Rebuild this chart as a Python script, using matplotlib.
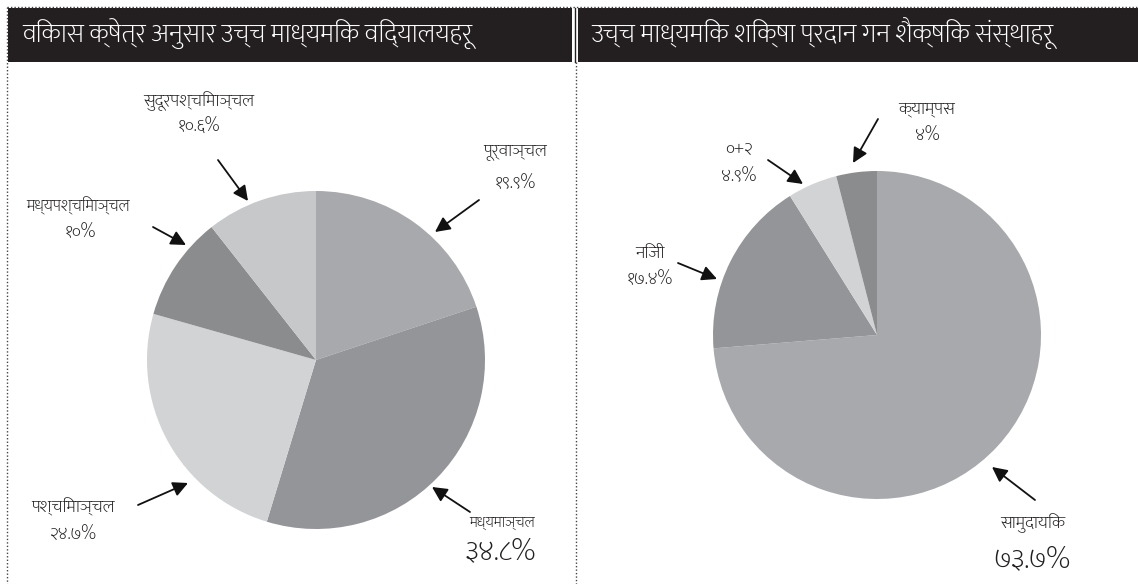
import matplotlib
matplotlib.use("Agg")
import matplotlib.pyplot as plt

plt.rcParams['font.family'] = ['Mukta', 'Noto Sans Devanagari', 'DejaVu Sans']
plt.rcParams['font.weight'] = 'light'

# left panel: higher secondary schools by development region
left_title = "विकास क्षेत्र अनुसार उच्च माध्यमिक विद्यालयहरू"
left_names = ["पूर्वाञ्चल", "मध्यमाञ्चल", "पश्चिमाञ्चल", "मध्यपश्चिमाञ्चल", "सुदूरपश्चिमाञ्चल"]
left_values = [19.9, 34.8, 24.7, 10.0, 10.6]

# right panel: institutions offering higher secondary education
right_title = "उच्च माध्यमिक शिक्षा प्रदान गन शैक्षिक संस्थाहरू"
right_names = ["सामुदायिक", "निजी", "०+२", "क्याम्पस"]
right_values = [73.7, 17.4, 4.9, 4.0]

grays = ["#a7a9ac", "#939598", "#d1d3d4", "#8a8c8e", "#c7c8ca"]

W, H = 1138, 584
deva = str.maketrans("0123456789", "०१२३४५६७८९")


def pct(v):
    return ("%g%%" % v).translate(deva)


fig = plt.figure(figsize=(W / 100, H / 100), dpi=100)
ax = fig.add_axes([0, 0, 1, 1])


def Y(y):
    return H - y


# pies
ax.pie(left_values, colors=grays[:len(left_values)], startangle=90, counterclock=False,
       center=(316, Y(360)), radius=169, wedgeprops=dict(lw=0), frame=True)
ax.pie(right_values, colors=grays[:len(right_values)], startangle=90, counterclock=False,
       center=(877, Y(335)), radius=164, wedgeprops=dict(lw=0), frame=True)
ax.set_xlim(0, W)
ax.set_ylim(0, H)
ax.set_aspect("equal")
ax.axis("off")

# header bars
ax.add_patch(plt.Rectangle((8, Y(62)), 564, 54, color="#231f20", lw=0))
ax.add_patch(plt.Rectangle((578, Y(62)), W - 578, 54, color="#231f20", lw=0))
ax.plot([575, 575], [Y(8), Y(62)], color="#231f20", lw=1)
ax.text(22, Y(34), left_title, color="white", fontsize=19, va="center", ha="left")
ax.text(591, Y(34), right_title, color="white", fontsize=19, va="center", ha="left")

# dotted frame
dot = dict(color="#444444", lw=1, ls=(0, (1, 1.5)))
ax.plot([7, W], [Y(7), Y(7)], **dot)
ax.plot([7, 7], [Y(7), 0], **dot)
ax.plot([576, 576], [Y(62), 0], **dot)

arrow = dict(arrowstyle="-|>,head_length=0.9,head_width=0.45", color="#111111", lw=1.3,
             shrinkA=0, shrinkB=0)

# label layout: (name pos, pct pos, arrow tail, arrow head, name size, pct size)
left_layout = [
    ((515, 152), (515, 184), (479, 200), (435, 232), 13, 13),
    ((502, 523), (500, 552), (470, 512), (432, 487), 11, 21),
    ((73, 507), (73, 535), (138, 505), (188, 483), 13, 13),
    ((78, 206), (80, 233), (153, 227), (186, 245), 12, 13),
    ((199, 101), (199, 127), (218, 160), (248, 201), 13, 13),
]
right_layout = [
    ((1033, 523), (1032, 560), (1035, 500), (992, 467), 13, 21),
    ((650, 253), (650, 280), (678, 263), (717, 279), 13, 13),
    ((739, 149), (739, 177), (768, 160), (803, 184), 13, 13),
    ((927, 109), (927, 136), (878, 119), (853, 163), 13, 13),
]

for names, values, layout in [(left_names, left_values, left_layout),
                              (right_names, right_values, right_layout)]:
    for name, v, (npos, ppos, tail, head, ns, ps) in zip(names, values, layout):
        ax.text(npos[0], Y(npos[1]), name, fontsize=ns, ha="center", va="center", color="#231f20")
        ax.text(ppos[0], Y(ppos[1]), pct(v), fontsize=ps, ha="center", va="center", color="#231f20")
        ax.annotate("", xy=(head[0], Y(head[1])), xytext=(tail[0], Y(tail[1])), arrowprops=arrow)

fig.savefig("out.png", dpi=100)
